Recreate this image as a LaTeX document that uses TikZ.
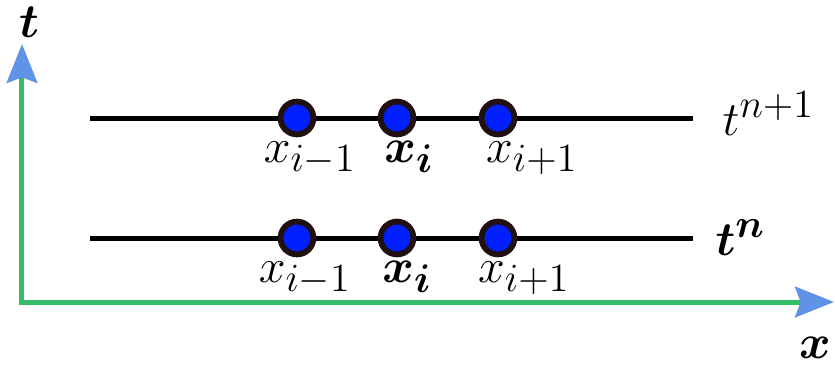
\documentclass[tikz,border=0pt]{standalone}
\usepackage{amsmath,amssymb}
\usepackage{xcolor}
\usepackage{tikz}
\usetikzlibrary{arrows.meta}

\definecolor{axisgreen}{RGB}{52,190,104}
\definecolor{tipblue}{RGB}{96,146,232}
\definecolor{dotblue}{RGB}{0,32,255}
\definecolor{dotrim}{RGB}{32,16,16}

\begin{document}
\begin{tikzpicture}[
    x=0.36pt, y=0.36pt,
    axis/.style={draw=axisgreen, line width=1.8pt, line cap=rect, -{Stealth[length=14pt, width=11pt, inset=2pt, color=tipblue]}},
    level/.style={draw=black, line width=1.8pt},
    grid pt/.style={circle, draw=dotrim, fill=dotblue, line width=2.1pt, minimum size=11.8pt, inner sep=0pt},
    lbl/.style={font=\fontsize{19}{22}\selectfont, inner sep=0pt, anchor=base},
]
\useasboundingbox (-22,-66) rectangle (813,302);

% Axes
\coordinate (o) at (0,0);
\coordinate (xend) at (812,0);
\coordinate (tend) at (0,258);
\draw[axis] (o) -- (xend);
\draw[axis] (o) -- (tend);
\node[lbl] (x_label) at (793,-56) {$\boldsymbol{x}$};
\node[lbl] (t_label) at (7,265) {$\boldsymbol{t}$};

% Time level t^n
\coordinate (n_start) at (68,64);
\coordinate (n_end) at (671,64);
\draw[level] (n_start) -- (n_end);
\node[grid pt] (n_im1) at (275,64) {};
\node[grid pt] (n_i) at (375,64) {};
\node[grid pt] (n_ip1) at (476,64) {};
\node[lbl] (n_im1_label) at (283,20) {$x_{i-1}$};
\node[lbl] (n_i_label) at (385,20) {$\boldsymbol{x_i}$};
\node[lbl] (n_ip1_label) at (502,20) {$x_{i+1}$};
\node[lbl, anchor=base west] (n_label) at (693,47) {$\boldsymbol{t^n}$};

% Time level t^{n+1}
\coordinate (np_start) at (68,184);
\coordinate (np_end) at (671,184);
\draw[level] (np_start) -- (np_end);
\node[grid pt] (np_im1) at (275,184) {};
\node[grid pt] (np_i) at (375,184) {};
\node[grid pt] (np_ip1) at (476,184) {};
\node[lbl] (np_im1_label) at (288,140) {$x_{i-1}$};
\node[lbl] (np_i_label) at (387,140) {$\boldsymbol{x_i}$};
\node[lbl] (np_ip1_label) at (510,140) {$x_{i+1}$};
\node[lbl, anchor=base west] (np_label) at (700,167) {$t^{n+1}$};

\end{tikzpicture}
\end{document}
